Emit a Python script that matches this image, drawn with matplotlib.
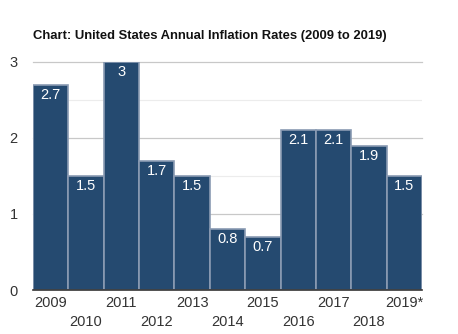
import matplotlib
matplotlib.use("Agg")
import matplotlib.pyplot as plt

years = ["2009", "2010", "2011", "2012", "2013", "2014", "2015", "2016", "2017", "2018", "2019*"]
rates = [2.7, 1.5, 3.0, 1.7, 1.5, 0.8, 0.7, 2.1, 2.1, 1.9, 1.5]
rate_labels = ["2.7", "1.5", "3", "1.7", "1.5", "0.8", "0.7", "2.1", "2.1", "1.9", "1.5"]
y_ticks = [0, 1, 2, 3]

plt.rcParams["font.family"] = ["Liberation Sans", "DejaVu Sans"]

fig = plt.figure(figsize=(4.58, 3.34), dpi=100)
ax = fig.add_axes([33 / 458, 1 - 290 / 334, 389 / 458, 228 / 334])

x = list(range(len(years)))
ax.bar(x, rates, width=1.0, color="#254a70", edgecolor="#8a9bb3", linewidth=1.2, zorder=3)

for xi, v, lab in zip(x, rates, rate_labels):
    ax.annotate(lab, (xi, v), xytext=(0, -10), textcoords="offset pixels",
                ha="center", va="center", color="white", fontsize=10.5, zorder=4)

ax.set_xlim(-0.5, len(years) - 0.5)
ax.set_ylim(0, 3)

# grid: solid lines at whole numbers, faint lines at halves
for yv in [0.5, 1.5, 2.5]:
    ax.axhline(yv, color="#ececec", linewidth=0.8, zorder=1)
for yv in [1, 2, 3]:
    ax.axhline(yv, color="#c8c8c8", linewidth=0.9, zorder=1, clip_on=False)

for s in ["top", "right", "left"]:
    ax.spines[s].set_visible(False)
ax.spines["bottom"].set_color("#333333")
ax.spines["bottom"].set_linewidth(1.2)
ax.spines["bottom"].set_zorder(5)

ax.set_yticks(y_ticks)
ax.set_yticklabels([str(t) for t in y_ticks])
ax.tick_params(axis="y", length=0, pad=11, labelsize=10.5, labelcolor="#333333")

ax.set_xticks(x)
ax.set_xticklabels([])
ax.tick_params(axis="x", length=0)
for xi, yr in zip(x, years):
    off = -13 if xi % 2 == 0 else -32
    ax.annotate(yr, (xi, 0), xytext=(0, off), textcoords="offset pixels",
                ha="center", va="center", fontsize=10.5, color="#333333",
                annotation_clip=False)

fig.text(33 / 458, 1 - 36 / 334, "Chart: United States Annual Inflation Rates (2009 to 2019)",
         fontsize=9.4, fontweight="bold", color="#111111", ha="left", va="center")

fig.savefig("out.png", dpi=100)
